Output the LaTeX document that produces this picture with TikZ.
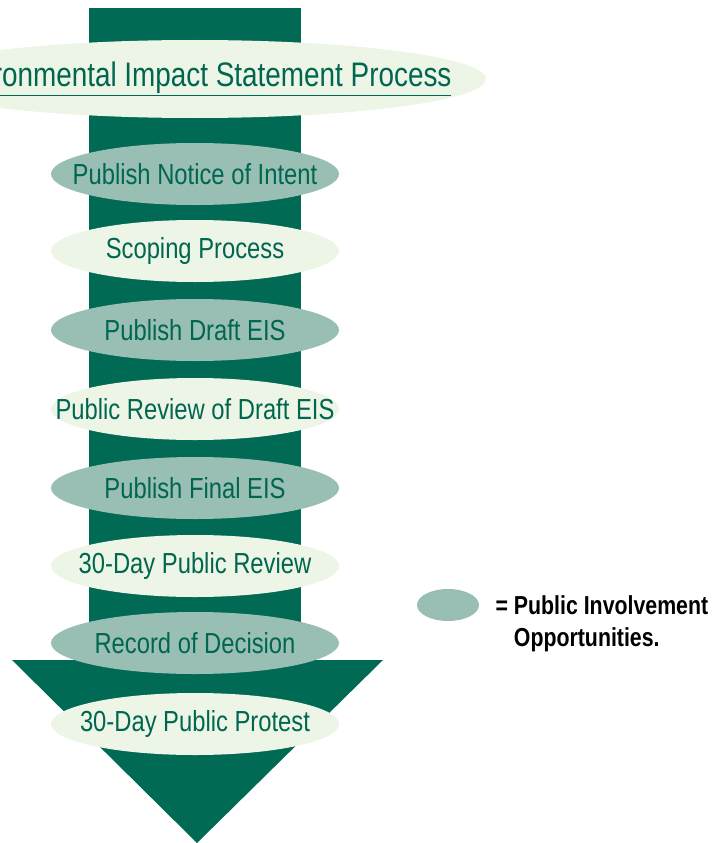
\documentclass[tikz,border=0pt]{standalone}
\usepackage{fontspec}
\setmainfont{Liberation Sans}[FakeStretch=0.82]
\usepackage{xcolor}
\usetikzlibrary{positioning,shapes.geometric}

\definecolor{eisdark}{RGB}{0,106,85}
\definecolor{eismid}{RGB}{153,191,181}
\definecolor{eislight}{RGB}{237,245,230}
\definecolor{eistext}{RGB}{0,102,80}

\begin{document}
\begin{tikzpicture}[
  x=1pt, y=-1pt,
  stage/.style={ellipse, minimum width=288pt, minimum height=62pt, inner xsep=-60pt,
                inner ysep=0pt, text=eistext, font=\fontsize{29}{31}\selectfont},
  public/.style={stage, fill=eismid},
  other/.style={stage, fill=eislight},
  keytext/.style={font=\bfseries\fontsize{26}{32}\selectfont, align=left, anchor=west}
]
\useasboundingbox (0,0) rectangle (726,843);
\clip (0,0) rectangle (726,843);

% Arrow: shaft and head
\fill[eisdark] (89,8) rectangle (301,662);
\fill[eisdark] (12,660) -- (383,660) -- (197,843) -- cycle;

% Title
\node[ellipse, fill=eislight, minimum width=582pt, minimum height=78pt, inner xsep=-120pt,
      inner ysep=0pt, text=eistext, font=\fontsize{34}{36}\selectfont] (title) at (195,79)
  {\underline{Environmental Impact Statement Process}};

% Steps
\node[public] (notice) at (195,174) {Publish Notice of Intent};
\node[other]  (scoping) at (195,251) {Scoping Process};
\node[public] (draft) at (195,330) {Publish Draft EIS};
\node[other]  (review) at (195,409) {Public Review of Draft EIS};
\node[public] (final) at (195,488) {Publish Final EIS};
\node[other]  (thirty) at (195,566) {30-Day Public Review};
\node[public] (record) at (195,643) {Record of Decision};
\node[other]  (protest) at (195,724) {30-Day Public Protest};

% Legend
\node[ellipse, fill=eismid, minimum width=62pt, minimum height=32pt, inner sep=0pt] (key) at (448,605) {};
\node[keytext] (keylabel) at (492,624) {= Public Involvement\\\phantom{= }Opportunities.};

\end{tikzpicture}
\end{document}
